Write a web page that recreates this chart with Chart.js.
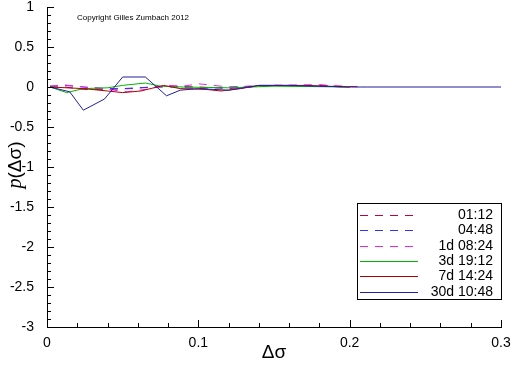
<!DOCTYPE html>
<html>
<head>
<meta charset="utf-8">
<script src="https://cdn.jsdelivr.net/npm/chart.js@4"></script>
<style>
  html, body { margin: 0; padding: 0; background: #fff; }
  #wrap { width: 512px; height: 366px; }
</style>
</head>
<body>
<div id="wrap"><canvas id="chart" width="512" height="366"></canvas></div>
<script>
// series labels (time horizons)
const seriesLabels = ['01:12', '04:48', '1d 08:24', '3d 19:12', '7d 14:24', '30d 10:48'];

// delta sigma values and p(delta sigma) values, per series
const x0112 = [0.002, 0.012, 0.024, 0.040, 0.055, 0.070, 0.085, 0.100, 0.120, 0.150, 0.180, 0.210];
const y0112 = [0.00, 0.00, -0.03, -0.03, -0.02, 0.00, 0.01, 0.00, -0.02, 0.02, 0.02, 0.00];

const x0448 = [0.002, 0.012, 0.024, 0.040, 0.050, 0.070, 0.085, 0.100, 0.120, 0.150, 0.180, 0.200];
const y0448 = [0.01, 0.02, 0.00, -0.02, -0.02, 0.00, 0.00, -0.02, 0.00, 0.02, 0.01, 0.00];

const x1d = [0.002, 0.012, 0.024, 0.040, 0.053, 0.065, 0.080, 0.090, 0.100, 0.120, 0.150, 0.180, 0.200];
const y1d = [0.01, 0.025, 0.00, -0.03, -0.06, -0.03, 0.02, 0.01, 0.04, 0.00, 0.02, 0.03, 0.00];

const x3d = [0.002, 0.013, 0.024, 0.040, 0.050, 0.065, 0.075, 0.090, 0.120, 0.150, 0.200];
const y3d = [0.00, -0.07, -0.02, -0.01, 0.02, 0.05, 0.01, 0.00, -0.01, 0.01, 0.00];

const x7d = [0.002, 0.024, 0.040, 0.050, 0.062, 0.077, 0.088, 0.105, 0.115, 0.128, 0.140, 0.170, 0.200];
const y7d = [0.00, -0.02, -0.05, -0.07, -0.05, 0.02, -0.02, -0.03, -0.05, -0.02, 0.02, 0.02, 0.00];

const x30d = [0.002, 0.015, 0.024, 0.038, 0.050, 0.065, 0.079, 0.088, 0.100, 0.120, 0.140, 0.160, 0.200, 0.300];
const y30d = [0.00, -0.06, -0.29, -0.15, 0.125, 0.125, -0.11, -0.04, -0.02, -0.04, 0.02, 0.02, 0.00, 0.00];

const xTicks = [0, 0.1, 0.2, 0.3];
const yTicks = [1, 0.5, 0, -0.5, -1, -1.5, -2, -2.5, -3];

function pts(xs, ys) {
    return xs.map((x, i) => ({ x: x, y: ys[i] }));
}

const styles = [
    { color: '#c00040', dash: [8, 7] },
    { color: '#3030ff', dash: [8, 7] },
    { color: '#f020f0', dash: [8, 7] },
    { color: '#00b400', dash: [] },
    { color: '#b00000', dash: [] },
    { color: '#2020a0', dash: [] }
];
const allData = [pts(x0112, y0112), pts(x0448, y0448), pts(x1d, y1d), pts(x3d, y3d), pts(x7d, y7d), pts(x30d, y30d)];

const datasets = seriesLabels.map((label, i) => ({
    label: label,
    data: allData[i],
    showLine: true,
    borderColor: styles[i].color,
    borderDash: styles[i].dash,
    borderWidth: 1,
    pointRadius: 0,
    tension: 0
})).reverse();

const FONT = '"Liberation Sans", Arial, sans-serif';

// inward ticks, legend box, y title and copyright note
const extras = {
    id: 'extras',
    afterDraw(chart) {
        const ctx = chart.ctx;
        const xs = chart.scales.x, ys = chart.scales.y;
        const left = xs.left, bottom = ys.bottom;
        ctx.save();
        ctx.strokeStyle = '#000';
        ctx.lineWidth = 1;
        ctx.beginPath();
        for (let k = 0; k <= 15; k++) {
            const v = k * 0.02;
            const px = Math.round(xs.getPixelForValue(v)) + 0.5;
            const len = (k % 5 === 0) ? 7 : 4;
            ctx.moveTo(px, bottom);
            ctx.lineTo(px, bottom - len);
        }
        for (let k = 0; k <= 40; k++) {
            const v = -3 + k * 0.1;
            const py = Math.round(ys.getPixelForValue(v)) + 0.5;
            const len = (k % 5 === 0) ? 7 : 4;
            ctx.moveTo(left, py);
            ctx.lineTo(left + len, py);
        }
        ctx.stroke();

        // legend box
        const bx = 357.5, by = 203.5, bw = 144, bh = 96;
        ctx.fillStyle = '#fff';
        ctx.fillRect(bx, by, bw, bh);
        ctx.strokeRect(bx, by, bw, bh);
        ctx.font = '14px ' + FONT;
        ctx.textAlign = 'right';
        ctx.textBaseline = 'middle';
        seriesLabels.forEach((label, i) => {
            const y = Math.round(215 + i * 15.3) + 0.5;
            ctx.strokeStyle = styles[i].color;
            ctx.setLineDash(styles[i].dash);
            ctx.beginPath();
            ctx.moveTo(360, y);
            ctx.lineTo(418, y);
            ctx.stroke();
            ctx.setLineDash([]);
            ctx.fillStyle = '#000';
            ctx.fillText(label, 493, y);
        });

        // y axis title with italic p
        ctx.translate(16, 165);
        ctx.rotate(-Math.PI / 2);
        ctx.textAlign = 'left';
        ctx.textBaseline = 'middle';
        ctx.font = 'italic 20px "Liberation Serif", serif';
        const w1 = ctx.measureText('p').width;
        ctx.font = '19px ' + FONT;
        const w2 = ctx.measureText('(Δσ)').width;
        const start = -(w1 + w2) / 2;
        ctx.font = 'italic 20px "Liberation Serif", serif';
        ctx.fillText('p', start, 0);
        ctx.font = '19px ' + FONT;
        ctx.fillText('(Δσ)', start + w1, 0);
        ctx.restore();

        ctx.save();
        ctx.fillStyle = '#000';
        ctx.font = '8px ' + FONT;
        ctx.textAlign = 'left';
        ctx.textBaseline = 'middle';
        ctx.fillText('Copyright Gilles Zumbach 2012', 77, 18);
        ctx.restore();
    }
};

new Chart(document.getElementById('chart'), {
    type: 'scatter',
    data: { datasets: datasets },
    options: {
        responsive: false,
        animation: false,
        layout: { padding: { top: 7, right: 11, left: 0, bottom: 0 } },
        plugins: { legend: { display: false }, tooltip: { enabled: false } },
        scales: {
            x: {
                type: 'linear',
                min: 0,
                max: 0.3,
                afterBuildTicks: s => { s.ticks = xTicks.map(v => ({ value: v })); },
                afterFit: s => { s.height = 39; s.paddingLeft = 0; s.paddingRight = 0; },
                grid: { display: false },
                border: { display: true, color: '#000', width: 1 },
                ticks: {
                    color: '#000',
                    padding: 0,
                    font: { family: FONT, size: 14 },
                    maxRotation: 0,
                    callback: v => String(Math.round(v * 10) / 10)
                },
                title: {
                    display: true,
                    text: 'Δσ',
                    color: '#000',
                    padding: { top: 0, bottom: 2 },
                    font: { family: FONT, size: 19 }
                }
            },
            y: {
                type: 'linear',
                min: -3,
                max: 1,
                afterBuildTicks: s => { s.ticks = yTicks.map(v => ({ value: v })); },
                afterFit: s => { s.width = 47; s.paddingTop = 0; s.paddingBottom = 0; },
                grid: { display: false },
                border: { display: true, color: '#000', width: 1 },
                ticks: {
                    color: '#000',
                    padding: 5,
                    font: { family: FONT, size: 14 },
                    callback: v => String(v)
                }
            }
        }
    },
    plugins: [extras]
});
</script>
</body>
</html>
